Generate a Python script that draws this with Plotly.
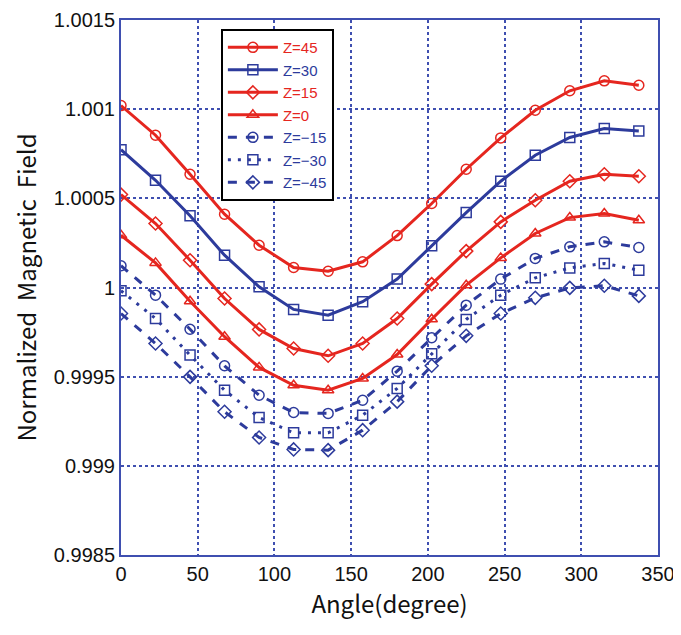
import plotly.graph_objects as go

angles = [0, 22.5, 45, 67.5, 90, 112.5, 135, 157.5, 180, 202.5, 225, 247.5, 270, 292.5, 315, 337.5]

z45 = [1.00102, 1.000854, 1.000635, 1.000411, 1.000237, 1.000112, 1.000091, 1.000144,
       1.000291, 1.000471, 1.000663, 1.000839, 1.000994, 1.001103, 1.001159, 1.001134]
z30 = [1.000773, 1.000601, 1.000402, 1.000181, 1.000004, 0.999877, 0.999845, 0.99992,
       1.000047, 1.000234, 1.00042, 1.000596, 1.000742, 1.000841, 1.000891, 1.000878]
z15 = [1.000521, 1.000359, 1.000153, 0.999938, 0.999765, 0.999658, 0.999617, 0.999686,
       0.999826, 1.000019, 1.000204, 1.000368, 1.000489, 1.000596, 1.000635, 1.000624]
z0 = [1.000293, 1.000138, 0.999923, 0.999724, 0.999552, 0.999452, 0.999424, 0.99949,
      0.999624, 0.999822, 1.000013, 1.000166, 1.000303, 1.000392, 1.000415, 1.000377]
zm15 = [1.000122, 0.999957, 0.999766, 0.999561, 0.999396, 0.999299, 0.999294, 0.999368,
        0.999531, 0.999718, 0.999901, 1.000047, 1.000163, 1.000228, 1.000256, 1.000224]
zm30 = [0.999982, 0.999826, 0.999621, 0.999424, 0.999271, 0.999185, 0.999185, 0.999284,
        0.999434, 0.999628, 0.999821, 0.999957, 1.000054, 1.00011, 1.000135, 1.000097]
zm45 = [0.999854, 0.999686, 0.999499, 0.999303, 0.999159, 0.999092, 0.999088, 0.9992,
        0.99936, 0.999561, 0.999729, 0.999854, 0.999942, 0.999998, 1.00001, 0.999953]

series_names = ["Z=45", "Z=30", "Z=15", "Z=0", "Z=-15", "Z=-30", "Z=-45"]
series_values = [z45, z30, z15, z0, zm15, zm30, zm45]

y_tickvals = [0.9985, 0.999, 0.9995, 1.0, 1.0005, 1.001, 1.0015]
y_ticktext = ["0.9985", "0.999", "0.9995", "1", "1.0005", "1.001", "1.0015"]
x_tickvals = [0, 50, 100, 150, 200, 250, 300, 350]

RED = "#e5261f"
BLUE = "#2d3b9c"
AXBLUE = "#3f4fb0"

styles = [
    (RED, "solid", "circle-open"),
    (BLUE, "solid", "square-open"),
    (RED, "solid", "diamond-open"),
    (RED, "solid", "triangle-up-open"),
    (BLUE, "dash", "circle-open"),
    (BLUE, "3px,7px", "square-open"),
    (BLUE, "dash", "diamond-open"),
]

fig = go.Figure()
for name, vals, (col, dash, sym) in zip(series_names, series_values, styles):
    fig.add_trace(go.Scatter(
        x=angles, y=vals, mode="lines+markers",
        name=f"<span style='color:{col}'>{name.replace('-', '−')}</span>",
        line=dict(color=col, width=3, dash=dash),
        marker=dict(symbol=sym, size=10, color=col, line=dict(width=1.5, color=col)),
    ))

axis_common = dict(
    showline=True, linecolor=AXBLUE, linewidth=2, mirror=True,
    showgrid=True, gridcolor=AXBLUE, gridwidth=1.5, griddash="dot",
    zeroline=False, ticks="", automargin=False,
    tickfont=dict(family="Liberation Sans, Arial", size=20, color="#111111"),
)

fig.update_layout(
    width=673, height=627,
    margin=dict(l=113, r=23, t=12, b=80),
    paper_bgcolor="white", plot_bgcolor="white",
    xaxis=dict(range=[0, 350], tickvals=x_tickvals, **axis_common,
               title=dict(text="Angle(degree)", standoff=4,
                          font=dict(family="Noto Sans CJK JP, Liberation Sans", size=24, color="#111111"))),
    yaxis=dict(range=[0.9985, 1.0015], tickvals=y_tickvals, ticktext=y_ticktext, **axis_common,
               title=dict(text="Normalized  Magnetic  Field", standoff=26,
                          font=dict(family="Noto Sans CJK JP, Liberation Sans", size=24, color="#111111"))),
    legend=dict(x=0.186, y=0.983, xanchor="left", yanchor="top",
                bgcolor="white", bordercolor="black", borderwidth=2,
                font=dict(family="Liberation Sans, Arial", size=15),
                tracegroupgap=0, itemwidth=50),
    showlegend=True,
)

fig.write_html("out.html")
